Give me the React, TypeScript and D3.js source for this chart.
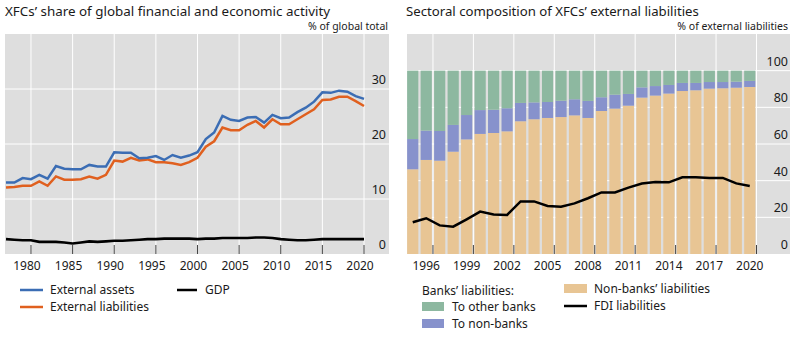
import React from "react";
import * as d3 from "d3";

// ---------- Left panel data ----------
const leftYears = [
  1977, 1978, 1979, 1980, 1981, 1982, 1983, 1984, 1985, 1986, 1987, 1988, 1989,
  1990, 1991, 1992, 1993, 1994, 1995, 1996, 1997, 1998, 1999,
  2000, 2001, 2002, 2003, 2004, 2005, 2006, 2007, 2008, 2009,
  2010, 2011, 2012, 2013, 2014, 2015, 2016, 2017, 2018, 2019, 2020,
];
const externalAssets = [
  13.0, 13.0, 13.8, 13.6, 14.4, 13.7, 16.0, 15.5, 15.4, 15.4, 16.2, 15.9, 15.9,
  18.5, 18.4, 18.4, 17.4, 17.5, 17.8, 17.1, 18.0, 17.5, 17.9,
  18.5, 20.9, 22.1, 25.1, 24.4, 24.2, 24.8, 24.9, 23.9, 25.3,
  24.7, 24.8, 25.8, 26.6, 27.7, 29.4, 29.3, 29.7, 29.5, 28.7, 28.2,
];
const externalLiabilities = [
  12.1, 12.2, 12.4, 12.4, 13.2, 12.4, 14.1, 13.5, 13.5, 13.6, 14.1, 13.7, 14.4,
  17.0, 16.8, 17.5, 17.0, 17.2, 16.7, 16.7, 16.5, 16.2, 16.7,
  17.5, 19.5, 20.5, 23.0, 22.5, 22.5, 23.5, 24.2, 23.0, 24.5,
  23.6, 23.6, 24.5, 25.4, 26.3, 28.0, 28.1, 28.6, 28.6, 27.8, 26.9,
];
const gdpShare = [
  2.7, 2.6, 2.5, 2.5, 2.2, 2.2, 2.2, 2.1, 1.9, 2.1, 2.3, 2.2, 2.3,
  2.4, 2.4, 2.5, 2.6, 2.7, 2.7, 2.8, 2.8, 2.8, 2.8,
  2.7, 2.8, 2.8, 2.9, 2.9, 2.9, 2.9, 3.0, 3.0, 2.9,
  2.7, 2.6, 2.5, 2.5, 2.6, 2.7, 2.7, 2.7, 2.7, 2.7, 2.7,
];
const leftTickYears = [1980, 1985, 1990, 1995, 2000, 2005, 2010, 2015, 2020];
const leftYTicks = [0, 10, 20, 30];

// ---------- Right panel data ----------
const rightYears = [
  1995, 1996, 1997, 1998, 1999, 2000, 2001, 2002, 2003, 2004, 2005, 2006, 2007,
  2008, 2009, 2010, 2011, 2012, 2013, 2014, 2015, 2016, 2017, 2018, 2019, 2020,
];
const nonBanksLiab = [
  46.2, 51.3, 50.9, 55.8, 62.5, 65.5, 66.0, 66.9, 72.4, 73.5, 74.2, 74.7, 75.6,
  74.2, 78.0, 79.3, 80.9, 85.3, 86.4, 87.5, 88.9, 89.3, 90.2, 90.4, 90.7, 91.1,
];
const toNonBanks = [
  16.5, 16.0, 16.2, 14.6, 13.3, 13.0, 12.7, 12.6, 10.0, 9.2, 8.7, 8.9, 8.8,
  9.3, 7.5, 7.6, 6.4, 5.6, 5.2, 4.7, 4.4, 4.0, 3.6, 3.4, 3.3, 3.3,
];
const toOtherBanks = [
  37.3, 32.7, 32.9, 29.6, 24.2, 21.5, 21.3, 20.5, 17.6, 17.3, 17.1, 16.4, 15.6,
  16.5, 14.5, 13.1, 12.7, 9.1, 8.4, 7.8, 6.7, 6.7, 6.2, 6.2, 6.0, 5.6,
];
const fdiLiab = [
  17.3, 19.5, 15.6, 14.9, 18.9, 23.1, 21.5, 21.3, 28.7, 28.7, 26.2, 25.8, 27.6,
  30.4, 33.6, 33.6, 36.2, 38.4, 39.3, 39.1, 41.8, 41.8, 41.5, 41.5, 38.5, 37.1,
];
const rightTickYears = [1996, 1999, 2002, 2005, 2008, 2011, 2014, 2017, 2020];
const rightYTicks = [0, 20, 40, 60, 80, 100];

const FONT = "'Noto Sans', 'Open Sans', sans-serif";
const TEXT = "#1a1a1a";
const BG = "#dedede";
const BLUE = "#3b6db4";
const ORANGE = "#e0601f";
const GREEN = "#8db8a0";
const PURPLE = "#8792cc";
const TAN = "#e8c594";

export default function App() {
  // ---- left scales ----
  const L = { x0: 5, x1: 389, y0: 34, y1: 254 };
  const xl = d3.scaleLinear().domain([1977, 2020]).range([6, 364]);
  const yl = d3.scaleLinear().domain([0, 40]).range([L.y1, L.y0]);
  const lineL = (vals: number[]) =>
    d3
      .line<number>()
      .x((_, i) => xl(leftYears[i]))
      .y((v) => yl(v))(vals) as string;

  // ---- right scales ----
  const R = { x0: 407, x1: 790, y0: 34, y1: 254 };
  const xr = d3
    .scaleBand<number>()
    .domain(rightYears)
    .range([406, 756.5])
    .paddingInner(0.17)
    .paddingOuter(0.085);
  const yr = d3.scaleLinear().domain([0, 120]).range([R.y1, R.y0]);
  const step = xr.step();
  const boundary = (y: number) => (xr(y) as number) + step * (1 - 0.17 / 2);

  const table = rightYears.map((y, i) => ({
    year: y,
    nonBanks: nonBanksLiab[i],
    toNonBanks: toNonBanks[i],
    toOther: toOtherBanks[i],
  }));
  const keys = ["nonBanks", "toNonBanks", "toOther"];
  const colors: Record<string, string> = {
    nonBanks: TAN,
    toNonBanks: PURPLE,
    toOther: GREEN,
  };
  const stacked = d3.stack<any>().keys(keys)(table);
  const fdiPath = d3
    .line<number>()
    .x((_, i) => (xr(rightYears[i]) as number) + xr.bandwidth() / 2)
    .y((v) => yr(v))(fdiLiab) as string;

  return (
    <svg
      width={799}
      height={338}
      style={{ position: "absolute", left: 0, top: 0, background: "#fff" }}
      fontFamily={FONT}
    >
      {/* ---------------- LEFT PANEL ---------------- */}
      <text x={5} y={16} fontSize={13.4} fill={TEXT}>
        XFCs’ share of global financial and economic activity
      </text>
      <text x={388} y={30} fontSize={10.5} fill={TEXT} textAnchor="end">
        % of global total
      </text>
      <rect x={L.x0} y={L.y0} width={L.x1 - L.x0} height={L.y1 - L.y0} fill={BG} />
      {leftYTicks.filter((t) => t > 0).map((t) => (
        <line key={t} x1={L.x0} x2={L.x1} y1={yl(t)} y2={yl(t)} stroke="#fff" strokeWidth={1} />
      ))}
      {leftTickYears.map((y) => (
        <line key={y} x1={xl(y)} x2={xl(y)} y1={L.y0} y2={L.y1} stroke="#fff" strokeWidth={1} />
      ))}
      {leftYTicks.map((t) => (
        <text key={t} x={386} y={yl(t) - 5} fontSize={12.5} fill={TEXT} textAnchor="end">
          {t}
        </text>
      ))}
      <path d={lineL(gdpShare)} fill="none" stroke="#000" strokeWidth={2.6} />
      <path d={lineL(externalLiabilities)} fill="none" stroke={ORANGE} strokeWidth={2.5} />
      <path d={lineL(externalAssets)} fill="none" stroke={BLUE} strokeWidth={2.5} />
      {leftTickYears.map((y) => (
        <g key={y}>
          <line x1={xl(y)} x2={xl(y)} y1={L.y1} y2={L.y1 - 9} stroke="#444" strokeWidth={1} />
          <text x={xl(y) - 4} y={270} fontSize={12} fill={TEXT} textAnchor="middle">
            {y}
          </text>
        </g>
      ))}
      {/* left legend */}
      <line x1={20} x2={43} y1={290} y2={290} stroke={BLUE} strokeWidth={2.5} />
      <text x={50} y={294} fontSize={12} fill={TEXT}>External assets</text>
      <line x1={20} x2={43} y1={307} y2={307} stroke={ORANGE} strokeWidth={2.5} />
      <text x={50} y={311} fontSize={12} fill={TEXT}>External liabilities</text>
      <line x1={177} x2={197} y1={290} y2={290} stroke="#000" strokeWidth={2.5} />
      <text x={205} y={294} fontSize={12} fill={TEXT}>GDP</text>

      {/* ---------------- RIGHT PANEL ---------------- */}
      <text x={406} y={16} fontSize={13.2} fill={TEXT}>
        Sectoral composition of XFCs’ external liabilities
      </text>
      <text x={788} y={30} fontSize={10.5} fill={TEXT} textAnchor="end">
        % of external liabilities
      </text>
      <rect x={R.x0} y={R.y0} width={R.x1 - R.x0} height={R.y1 - R.y0} fill={BG} />
      {rightYTicks.filter((t) => t > 0).map((t) => (
        <line key={t} x1={R.x0} x2={R.x1} y1={yr(t)} y2={yr(t)} stroke="#fff" strokeWidth={1} />
      ))}
      {rightTickYears.map((y) => (
        <line key={y} x1={boundary(y)} x2={boundary(y)} y1={R.y0} y2={R.y1} stroke="#fff" strokeWidth={1} />
      ))}
      {stacked.map((s) => (
        <g key={s.key} fill={colors[s.key]}>
          {s.map((d: any, i: number) => (
            <rect
              key={i}
              x={xr(d.data.year)}
              width={xr.bandwidth()}
              y={yr(d[1])}
              height={yr(d[0]) - yr(d[1])}
            />
          ))}
        </g>
      ))}
      {rightYTicks.map((t) => (
        <text key={t} x={788} y={yr(t) - 5} fontSize={12.5} fill={TEXT} textAnchor="end">
          {t}
        </text>
      ))}
      <path d={fdiPath} fill="none" stroke="#000" strokeWidth={2.5} />
      {rightTickYears.map((y) => (
        <g key={y}>
          <line x1={boundary(y)} x2={boundary(y)} y1={R.y1} y2={R.y1 - 9} stroke="#444" strokeWidth={1} />
          <text
            x={(xr(y) as number) + xr.bandwidth() / 2}
            y={270}
            fontSize={12}
            fill={TEXT}
            textAnchor="middle"
          >
            {y}
          </text>
        </g>
      ))}
      {/* right legend */}
      <text x={422} y={295} fontSize={12} fill={TEXT}>Banks’ liabilities:</text>
      <rect x={422} y={302} width={22} height={9} fill={GREEN} />
      <text x={452} y={311} fontSize={12} fill={TEXT}>To other banks</text>
      <rect x={422} y={319} width={22} height={9} fill={PURPLE} />
      <text x={452} y={328} fontSize={12} fill={TEXT}>To non-banks</text>
      <rect x={564} y={284} width={23} height={9} fill={TAN} />
      <text x={594} y={293} fontSize={12} fill={TEXT}>Non-banks’ liabilities</text>
      <line x1={564} x2={587} y1={306} y2={306} stroke="#000" strokeWidth={2.5} />
      <text x={594} y={310} fontSize={12} fill={TEXT}>FDI liabilities</text>
    </svg>
  );
}
